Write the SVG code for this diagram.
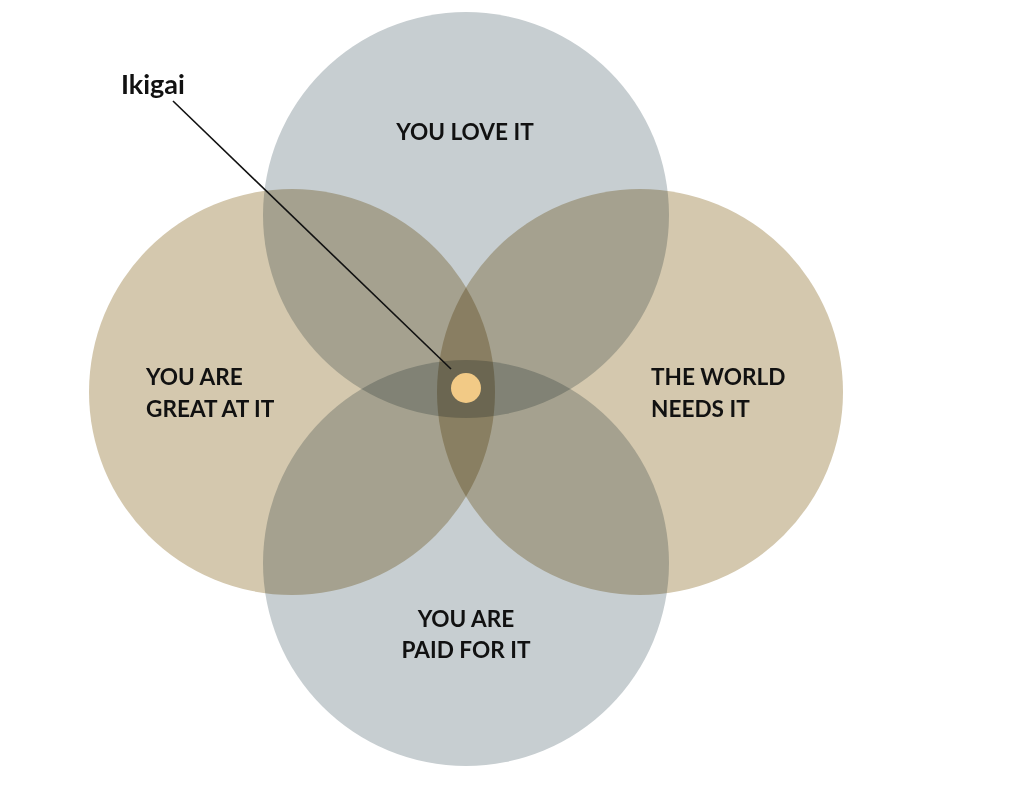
<svg xmlns="http://www.w3.org/2000/svg" width="1020" height="789" viewBox="0 0 1020 789">
<style>
.c{mix-blend-mode:multiply}
.blue{fill:#c7ced1}
.tan{fill:#d4c8ae}
.lbl{font-family:Lato,"Liberation Sans",sans-serif;font-weight:700;font-size:22.6px;fill:#111}
.title{font-family:Lato,"Liberation Sans",sans-serif;font-weight:700;font-size:27px;fill:#111}
</style>
<rect width="1020" height="789" fill="#ffffff"/>
<g id="node-love">
<circle class="c blue" cx="466" cy="215" r="203"/>
<text class="lbl" x="465" y="140" text-anchor="middle">YOU LOVE IT</text>
</g>
<g id="node-great">
<circle class="c tan" cx="292" cy="392" r="203"/>
<text class="lbl" x="146" y="385">YOU ARE</text>
<text class="lbl" x="146" y="417">GREAT AT IT</text>
</g>
<g id="node-world">
<circle class="c tan" cx="640" cy="392" r="203"/>
<text class="lbl" x="651" y="385">THE WORLD</text>
<text class="lbl" x="651" y="417">NEEDS IT</text>
</g>
<g id="node-paid">
<circle class="c blue" cx="466" cy="563" r="203"/>
<text class="lbl" x="466" y="627" text-anchor="middle">YOU ARE</text>
<text class="lbl" x="466" y="658" text-anchor="middle">PAID FOR IT</text>
</g>
<g id="connectors">
<line x1="173" y1="101" x2="451" y2="369" stroke="#111" stroke-width="1.6"/>
</g>
<g id="node-ikigai">
<circle cx="466" cy="388" r="15" fill="#f2ca86"/>
<text class="title" x="121" y="94">Ikigai</text>
</g>
</svg>
